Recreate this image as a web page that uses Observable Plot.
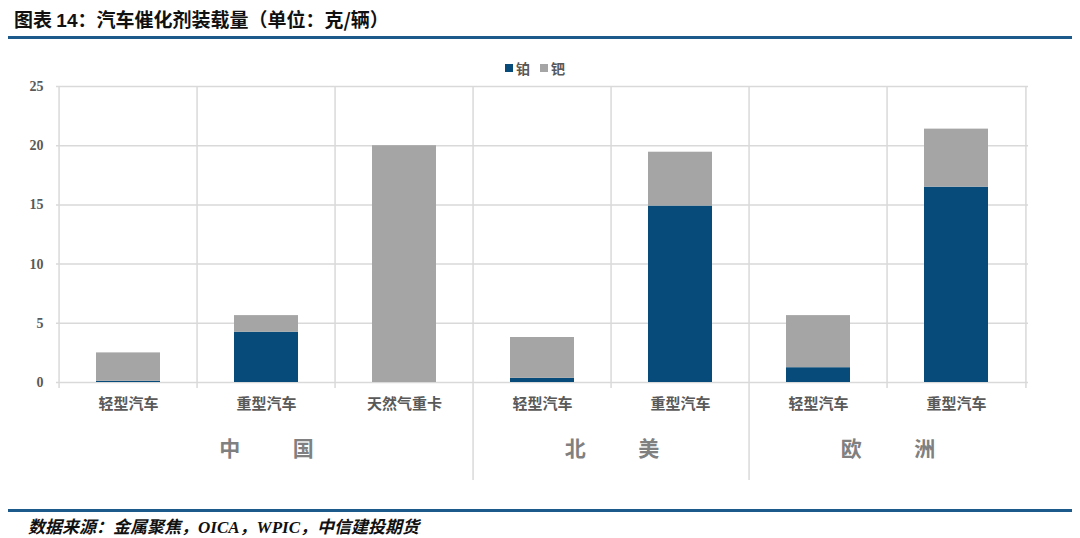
<!DOCTYPE html>
<html>
<head>
<meta charset="utf-8">
<script src="https://cdn.jsdelivr.net/npm/d3@7"></script>
<script src="https://cdn.jsdelivr.net/npm/@observablehq/plot@0.6"></script>
<style>
  html, body { margin: 0; padding: 0; background: #fff; }
  #wrap { position: relative; width: 1080px; height: 538px; overflow: hidden; font-family: "Noto Sans CJK SC", "Noto Sans", sans-serif; }
  #title { position: absolute; left: 14px; top: 5px; font-size: 19px; font-weight: bold; color: #111; }
  #title .num { font-family: "Liberation Sans", Arial, sans-serif; }
  .bar { position: absolute; left: 8px; width: 1064px; height: 3px; background: #1b5a8a; }
  #chart { position: absolute; left: 0; top: 40px; }
  #legend { position: absolute; top: 58px; left: 505px; font-size: 14px; font-weight: bold; color: #595959; display: flex; align-items: center; }
  #legend .sw { display: inline-block; width: 8px; height: 8px; margin-right: 3px; }
  #legend .item { display: flex; align-items: center; margin-right: 10px; }
  #source { position: absolute; left: 28px; top: 513px; font-size: 17px; font-style: italic; font-weight: bold; color: #111; font-family: "Liberation Serif", "Noto Sans CJK SC", serif; }
</style>
</head>
<body>
<div id="wrap">
  <div id="title">图表 <span class="num">14</span>：汽车催化剂装载量（单位：克/辆）</div>
  <div class="bar" style="top:36px"></div>
  <div id="chart"></div>
  <div id="legend"></div>
  <div class="bar" style="top:509px"></div>
  <div id="source">数据来源：金属聚焦，OICA，WPIC，中信建投期货</div>
</div>
<script>
// ---- data ----
const regions = ["中国", "中国", "中国", "北美", "北美", "欧洲", "欧洲"];
const vehicles = ["轻型汽车", "重型汽车", "天然气重卡", "轻型汽车", "重型汽车", "轻型汽车", "重型汽车"];
const platinum = [0.1, 4.25, 0, 0.35, 14.9, 1.25, 16.5];
const palladium = [2.4, 1.4, 20.0, 3.45, 4.55, 4.4, 4.9];
const seriesNames = ["铂", "钯"];
const seriesColors = ["#074b7a", "#a5a5a5"];
const yTicks = [0, 5, 10, 15, 20, 25];
const groupLabels = ["中\u3000\u3000\u2002国", "北\u3000\u3000\u2002美", "欧\u3000\u3000\u2002洲"];
const groupAnchorIndex = [1, 3, 5];

// ---- build ----
const keys = vehicles.map((v, i) => i + "|" + v);
const rows = [];
keys.forEach((k, i) => {
  rows.push({key: k, series: seriesNames[0], value: platinum[i]});
  rows.push({key: k, series: seriesNames[1], value: palladium[i]});
});

const W = 1080, H = 470, mL = 56, mR = 52, mT = 46, mB = 128;
const step = (W - mL - mR) / keys.length;
const separatorIdx = [3, 5];
const ruleStyle = {stroke: "#d9d9d9", strokeWidth: 1.5};

const plot = Plot.plot({
  width: W, height: H,
  marginLeft: mL, marginRight: mR, marginTop: mT, marginBottom: mB,
  style: {fontFamily: "'Noto Sans CJK SC', sans-serif", background: "transparent"},
  x: {type: "band", domain: keys, padding: 0, label: null},
  y: {domain: [0, 25], label: null},
  color: {domain: seriesNames, range: seriesColors},
  marks: [
    Plot.gridY(yTicks, {stroke: "#d9d9d9", strokeOpacity: 1, strokeWidth: 1.5}),
    Plot.ruleX(keys.filter((k, i) => !separatorIdx.includes(i)), {x: d => d, dx: -step / 2, y1: 25, y2: 0, insetBottom: -6, ...ruleStyle}),
    Plot.ruleX(keys.filter((k, i) => separatorIdx.includes(i)), {x: d => d, dx: -step / 2, y1: 25, y2: 0, insetBottom: -98, ...ruleStyle}),
    Plot.ruleX([keys[keys.length - 1]], {x: d => d, dx: step / 2, y1: 25, y2: 0, insetBottom: -6, ...ruleStyle}),
    Plot.barY(rows, Plot.stackY({x: "key", y: "value", fill: "series", order: seriesNames, insetLeft: 37, insetRight: 37})),
    Plot.axisY(yTicks, {tickSize: 0, tickPadding: 13, fontFamily: "'Liberation Serif', serif", fontWeight: "bold", fontSize: 14, fill: "#595959", label: null}),
    Plot.axisX({tickSize: 0, tickPadding: 16, tickFormat: k => k.split("|")[1], fontSize: 15, fontWeight: "bold", fill: "#595959", label: null}),
    Plot.text([0], {x: () => keys[groupAnchorIndex[0]], text: () => groupLabels[0], frameAnchor: "bottom", dy: 73, fontSize: 21, fontWeight: "bold", fill: "#808080"}),
    Plot.text([1, 2], {x: i => keys[groupAnchorIndex[i]], text: i => groupLabels[i], frameAnchor: "bottom", dx: step / 2, dy: 73, fontSize: 21, fontWeight: "bold", fill: "#808080"})
  ]
});
document.getElementById("chart").appendChild(plot);

// legend
const leg = document.getElementById("legend");
seriesNames.forEach((s, i) => {
  const it = document.createElement("span");
  it.className = "item";
  it.innerHTML = `<span class="sw" style="background:${seriesColors[i]}"></span>${s}`;
  leg.appendChild(it);
});
</script>
</body>
</html>
